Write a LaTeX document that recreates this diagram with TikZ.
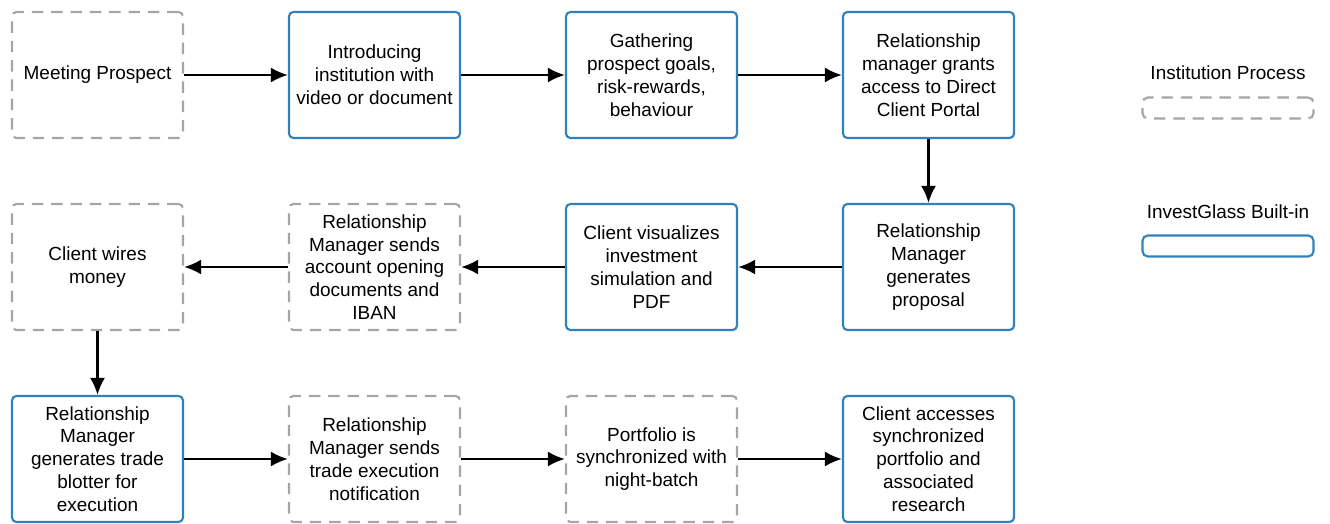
\documentclass[tikz,border=0pt]{standalone}
\usepackage{fontspec}
\setmainfont{Liberation Sans}
\usetikzlibrary{arrows.meta}
\definecolor{glassblue}{RGB}{48,130,190}
\definecolor{instgray}{RGB}{165,165,165}
\tikzset{%
  >={Latex[width=3mm,length=3.4mm]},
  % Specifications for style of nodes:
           base/.style = {rectangle, rounded corners=2.5pt, line width=1.2pt,
                          minimum width=3.42cm, minimum height=2.52cm,
                          text centered, align=center,
                          font=\fontsize{10.8}{13}\selectfont},
    institution/.style = {base, draw=instgray, dash pattern=on 6.5pt off 4.5pt},
        builtin/.style = {base, draw=glassblue},
      legendbar/.style = {rectangle, rounded corners=3pt, line width=1.2pt,
                          minimum width=3.42cm, minimum height=0.42cm},
    legendlabel/.style = {font=\fontsize{10.8}{13}\selectfont},
}

\begin{document}
\begin{tikzpicture}[node distance=5.54cm]
  \useasboundingbox (0,0) rectangle (26.6,-10.48);
  % Specification of nodes (position, etc.)
  \node (meeting) [institution] at (1.95,-1.5) {Meeting Prospect};
  \node (introducing) [builtin, right of=meeting] {Introducing\\institution with\\video or document};
  \node (gathering) [builtin, right of=introducing] {Gathering\\prospect goals,\\risk-rewards,\\behaviour};
  \node (grantsAccess) [builtin, right of=gathering] {Relationship\\manager grants\\access to Direct\\Client Portal};
  \node (proposal) [builtin, below of=grantsAccess, node distance=3.84cm] {Relationship\\Manager\\generates\\proposal};
  \node (visualizes) [builtin, left of=proposal] {Client visualizes\\investment\\simulation and\\PDF};
  \node (sendsDocuments) [institution, left of=visualizes] {Relationship\\Manager sends\\account opening\\documents and\\IBAN};
  \node (wiresMoney) [institution, left of=sendsDocuments] {Client wires\\money};
  \node (tradeBlotter) [builtin, below of=wiresMoney, node distance=3.84cm] {Relationship\\Manager\\generates trade\\blotter for\\execution};
  \node (sendsNotification) [institution, right of=tradeBlotter] {Relationship\\Manager sends\\trade execution\\notification};
  \node (nightBatch) [institution, right of=sendsNotification] {Portfolio is\\synchronized with\\night-batch};
  \node (accessesPortfolio) [builtin, right of=nightBatch] {Client accesses\\synchronized\\portfolio and\\associated\\research};
  % Legend
  \node (procLabel) [legendlabel] at (24.56,-1.46) {Institution Process};
  \node (procBar) [legendbar, draw=instgray, dash pattern=on 6.5pt off 4.5pt] at (24.56,-2.16) {};
  \node (builtLabel) [legendlabel] at (24.56,-4.24) {InvestGlass Built-in};
  \node (builtBar) [legendbar, draw=glassblue] at (24.56,-4.92) {};
  % Specification of lines between nodes specified above
  \draw[->, line width=1.4pt] (meeting) -- (introducing);
  \draw[->, line width=1.4pt] (introducing) -- (gathering);
  \draw[->, line width=1.4pt] (gathering) -- (grantsAccess);
  \draw[->, line width=1.4pt] (grantsAccess) -- (proposal);
  \draw[->, line width=1.4pt] (proposal) -- (visualizes);
  \draw[->, line width=1.4pt] (visualizes) -- (sendsDocuments);
  \draw[->, line width=1.4pt] (sendsDocuments) -- (wiresMoney);
  \draw[->, line width=1.4pt] (wiresMoney) -- (tradeBlotter);
  \draw[->, line width=1.4pt] (tradeBlotter) -- (sendsNotification);
  \draw[->, line width=1.4pt] (sendsNotification) -- (nightBatch);
  \draw[->, line width=1.4pt] (nightBatch) -- (accessesPortfolio);
\end{tikzpicture}
\end{document}
